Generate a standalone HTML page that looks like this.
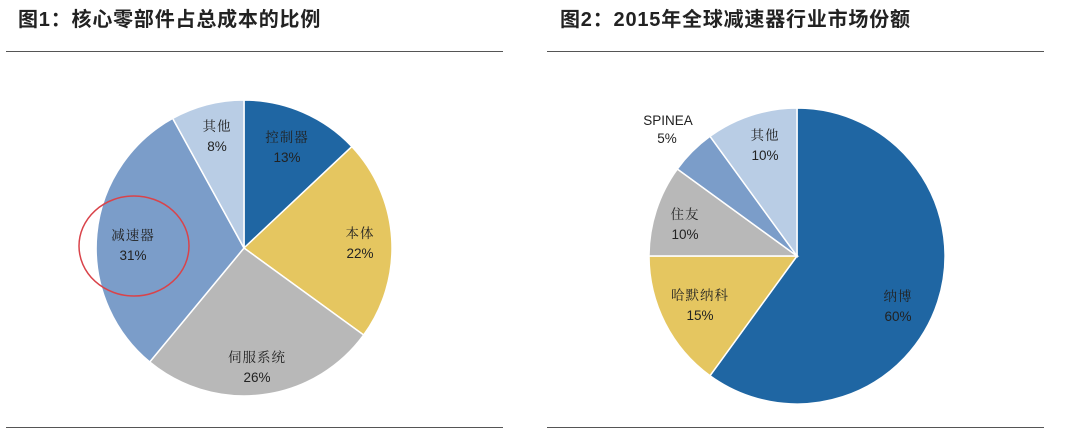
<!DOCTYPE html>
<html><head><meta charset="utf-8"><style>
html,body{margin:0;padding:0;background:#fff;}
svg{display:block;}
.t{font-family:"Liberation Sans","Noto Sans CJK SC",sans-serif;font-weight:bold;font-size:20px;fill:#222;letter-spacing:0.8px;}
.c{font-family:"Noto Serif CJK SC","Liberation Serif",serif;font-size:13.5px;fill:#222;text-anchor:middle;letter-spacing:1px;}
.n{font-family:"Liberation Sans",sans-serif;font-size:13.5px;fill:#222;text-anchor:middle;}
</style></head><body>
<svg width="1080" height="443" viewBox="0 0 1080 443">
<text class="t" x="18" y="26">图1：核心零部件占总成本的比例</text>
<text class="t" x="560" y="26">图2：2015年全球减速器行业市场份额</text>
<line x1="6" y1="51.5" x2="503" y2="51.5" stroke="#555" stroke-width="1"/>
<line x1="547" y1="51.5" x2="1044" y2="51.5" stroke="#555" stroke-width="1"/>
<line x1="6" y1="427.5" x2="503" y2="427.5" stroke="#555" stroke-width="1"/>
<line x1="547" y1="427.5" x2="1044" y2="427.5" stroke="#555" stroke-width="1"/>

<g stroke="#fff" stroke-width="1.5">
<path d="M244,248 L244,100 A148,148 0 0 1 351.9,146.6 Z" fill="#1F66A3"/>
<path d="M244,248 L351.9,146.6 A148,148 0 0 1 363.7,335 Z" fill="#E5C660"/>
<path d="M244,248 L363.7,335 A148,148 0 0 1 149.7,362 Z" fill="#B8B8B8"/>
<path d="M244,248 L149.7,362 A148,148 0 0 1 172.7,118.4 Z" fill="#7B9DC9"/>
<path d="M244,248 L172.7,118.4 A148,148 0 0 1 244,100 Z" fill="#B9CDE5"/>
</g>
<ellipse cx="134" cy="246" rx="55" ry="50" fill="none" stroke="#D9434A" stroke-width="1.5"/>
<text class="c" x="217" y="131">其他</text><text class="n" x="217" y="151">8%</text>
<text class="c" x="287" y="142">控制器</text><text class="n" x="287" y="162">13%</text>
<text class="c" x="360" y="238">本体</text><text class="n" x="360" y="258">22%</text>
<text class="c" x="257" y="362">伺服系统</text><text class="n" x="257" y="382">26%</text>
<text class="c" x="133" y="240">减速器</text><text class="n" x="133" y="260">31%</text>

<g stroke="#fff" stroke-width="1.5">
<path d="M797,256 L797,108 A148,148 0 1 1 710,375.7 Z" fill="#1F66A3"/>
<path d="M797,256 L710,375.7 A148,148 0 0 1 649,256 Z" fill="#E5C660"/>
<path d="M797,256 L649,256 A148,148 0 0 1 677.3,169 Z" fill="#B8B8B8"/>
<path d="M797,256 L677.3,169 A148,148 0 0 1 710,136.3 Z" fill="#7B9DC9"/>
<path d="M797,256 L710,136.3 A148,148 0 0 1 797,108 Z" fill="#B9CDE5"/>
</g>
<text class="n" x="668" y="125">SPINEA</text><text class="n" x="667" y="143">5%</text>
<text class="c" x="765" y="140">其他</text><text class="n" x="765" y="160">10%</text>
<text class="c" x="685" y="219">住友</text><text class="n" x="685" y="239">10%</text>
<text class="c" x="700" y="300">哈默纳科</text><text class="n" x="700" y="320">15%</text>
<text class="c" x="898" y="301">纳博</text><text class="n" x="898" y="321">60%</text>
</svg>
</body></html>
